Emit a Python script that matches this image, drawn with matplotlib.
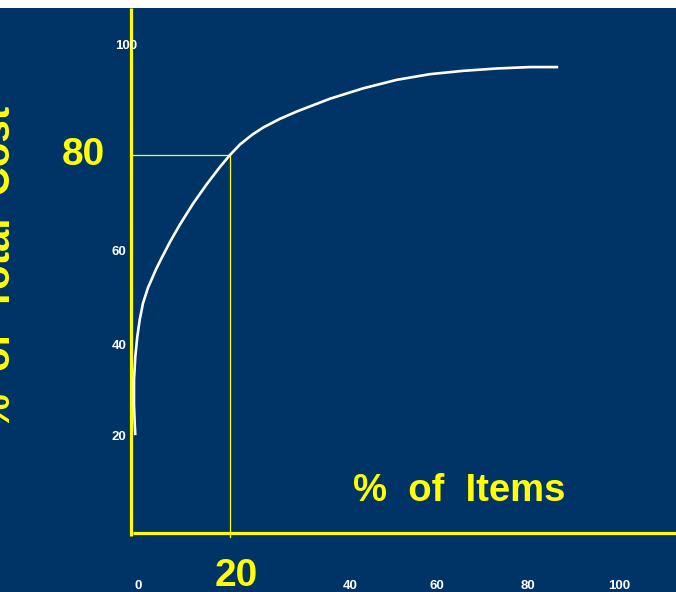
import matplotlib
matplotlib.use("Agg")
import matplotlib.pyplot as plt

# cumulative cost curve (% of items vs % of total cost)
items_pct = [0.87, 0.75, 0.6, 0.61, 0.87, 1.27, 1.76, 2.42, 3.43, 5.1, 6.2,
             7.88, 9.9, 12.6, 15.3, 18.0, 20.0, 22.0, 24.5, 26.7, 30.0, 33.5,
             40.2, 46.9, 53.7, 60.4, 67.1, 73.9, 80.6, 86.3]
cost_pct = [20.7, 23.2, 27.4, 32.4, 37.3, 41.5, 45.1, 48.6, 51.9, 55.9, 58.2,
            61.6, 65.3, 69.8, 73.8, 77.5, 80.0, 82.2, 84.3, 85.8, 87.6, 89.2,
            91.9, 94.1, 95.9, 97.1, 97.8, 98.3, 98.6, 98.6]

# the 80/20 reference point
mark_x = 20
mark_y = 80

x_labels = ["0", "40", "60", "80", "100"]
x_label_at = [1.4, 44.2, 61.8, 80.2, 98.6]
y_labels = ["100", "60", "40", "20"]
y_label_at = [103.1, 59.5, 39.6, 20.4]

navy = "#003366"
yellow = "#ffff00"

fig = plt.figure(figsize=(6.76, 5.92), dpi=100, facecolor="white")
ax = fig.add_axes([0, 0, 1, 584 / 592])
ax.set_facecolor(navy)
ax.set_xlim(-26.46, 110.1)
ax.set_ylim(-12.49, 111.1)
for s in ax.spines.values():
    s.set_visible(False)
ax.set_xticks([])
ax.set_yticks([])

# axes drawn as lines through the origin
ax.plot([0, 0], [-0.6, 111.1], color=yellow, lw=2.3, solid_capstyle="butt")
ax.plot([0.5, 110.1], [0, 0], color=yellow, lw=2.3, solid_capstyle="butt")

# guide lines to the 80/20 point
ax.plot([0, mark_x], [mark_y, mark_y], color=yellow, lw=0.9)
ax.plot([mark_x, mark_x], [mark_y, -0.8], color=yellow, lw=0.9)

ax.plot(items_pct, cost_pct, color="white", lw=1.9, solid_capstyle="butt",
        solid_joinstyle="round")

font = "Liberation Sans"
for lab, xv in zip(x_labels, x_label_at):
    ax.text(xv, -11.2, lab, color="white", fontsize=9.5, fontweight="bold",
            family=font, ha="center", va="center")
for lab, yv in zip(y_labels, y_label_at):
    ax.text(-0.9 if lab != "100" else 1.2, yv, lab, color="white", fontsize=9.5,
            fontweight="bold", family=font, ha="right", va="center")

ax.text(mark_x + 1.2, -9.1, str(mark_x), color=yellow, fontsize=28,
        fontweight="bold", family=font, ha="center", va="center")
ax.text(-9.7, mark_y, str(mark_y), color=yellow, fontsize=28,
        fontweight="bold", family=font, ha="center", va="center")

ax.text(66.4, 8.8, "%  of  Items", color=yellow, fontsize=27.5, fontweight="bold",
        family=font, ha="center", va="center")
ax.text(-26.6, 56.2, "%  of  Total  Cost", color=yellow, fontsize=29,
        fontweight="bold", family=font, rotation=90, ha="center", va="center")

fig.savefig("out.png", dpi=100, facecolor=fig.get_facecolor())
